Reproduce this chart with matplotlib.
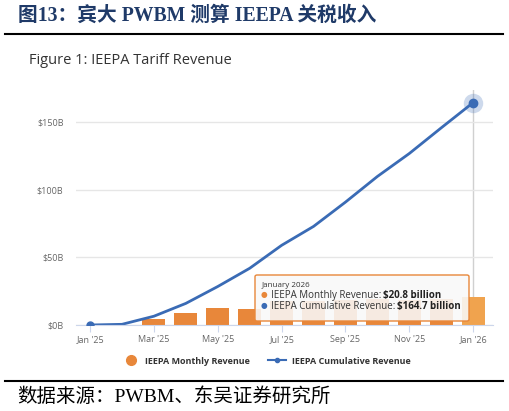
import matplotlib
matplotlib.use('Agg')
import matplotlib.pyplot as plt
from matplotlib.lines import Line2D
from matplotlib.patches import FancyBboxPatch
import numpy as np

# data (billions USD)
months = ["Jan '25", "Feb '25", "Mar '25", "Apr '25", "May '25", "Jun '25", "Jul '25",
          "Aug '25", "Sep '25", "Oct '25", "Nov '25", "Dec '25", "Jan '26"]
monthly = [0, 0, 4.4, 8.6, 12.3, 11.9, 17.5, 18.0, 18.5, 19.0, 18.5, 19.0, 20.8]
cumulative = [0, 0.5, 6.5, 16.0, 28.5, 42.0, 59.0, 73.0, 91.0, 110.0, 127.0, 146.0, 164.7]
yticks = [0, 50, 100, 150]
ytick_labels = ['$0B', '$50B', '$100B', '$150B']

ORANGE = '#E8873A'
ORANGE_HI = '#F0A34E'
BLUE = '#3A6BB5'
NAVY = '#1F3A68'
W, H = 509, 411
SERIF_CJK = ['Liberation Serif', 'Noto Sans CJK SC', 'DejaVu Sans']

plt.rcParams['font.family'] = ['Open Sans', 'DejaVu Sans']

fig = plt.figure(figsize=(W / 100, H / 100), dpi=100)

def fx(px):
    return px / W

def fy(py):
    return 1 - py / H

# main axes
ax = fig.add_axes([fx(76), fy(325), fx(493) - fx(76), fy(90) - fy(325)])
x = np.arange(len(months))

bar_colors = [ORANGE] * (len(months) - 1) + [ORANGE_HI]
ax.bar(x, monthly, width=0.72, color=bar_colors, zorder=2)

ax.plot(x, cumulative, color=BLUE, lw=2, zorder=3, solid_capstyle='round')
ax.plot(x[0], cumulative[0], 'o', color=BLUE, ms=5, zorder=4)
ax.plot(x[-1], cumulative[-1], 'o', color=BLUE, ms=14, alpha=0.25, mec='none', zorder=4)
ax.plot(x[-1], cumulative[-1], 'o', color=BLUE, ms=6, zorder=5)

# crosshair
ax.axvline(x[-1], color='#d0d0d0', lw=1, zorder=1)

ax.set_xlim(-0.44, 12.62)
ax.set_ylim(0, 174)
ax.set_yticks(yticks)
ax.set_yticklabels(ytick_labels)
ax.set_xticks(x[::2])
ax.set_xticklabels(months[::2])
ax.grid(axis='y', color='#e6e6e6', lw=1, zorder=0)
ax.tick_params(axis='y', length=0, labelsize=6.5, labelcolor='#666666', pad=9)
ax.tick_params(axis='x', length=5, color='#ccd6eb', labelsize=6.5, labelcolor='#666666', pad=2)
for s in ['top', 'right', 'left']:
    ax.spines[s].set_visible(False)
ax.spines['bottom'].set_color('#ccd6eb')
ax.spines['bottom'].set_zorder(3)

# tooltip
box = FancyBboxPatch((fx(255), fy(321)), fx(469) - fx(255), fy(275) - fy(321),
                     boxstyle='round,pad=0,rounding_size=0.004', transform=fig.transFigure,
                     facecolor='#f9f9f9', alpha=0.88, edgecolor='none', zorder=10)
fig.patches.append(box)
edge = FancyBboxPatch((fx(255), fy(321)), fx(469) - fx(255), fy(275) - fy(321),
                      boxstyle='round,pad=0,rounding_size=0.004', transform=fig.transFigure,
                      facecolor='none', edgecolor=ORANGE, lw=1, zorder=11)
fig.patches.append(edge)
fig.text(fx(262), fy(285), 'January 2026', fontsize=5.8, color='#333333', va='center', zorder=12)
fig.text(fx(261), fy(295.5), '●', fontsize=5.5, color=ORANGE, va='center', zorder=12)
fig.text(fx(271), fy(295.5), 'IEEPA Monthly Revenue: ', fontsize=7, color='#333333', va='center', zorder=12)
fig.text(fx(383), fy(295.5), '$20.8 billion', fontsize=7, color='#222222', fontweight='bold', va='center', zorder=12)
fig.text(fx(261), fy(306.5), '●', fontsize=5.5, color=BLUE, va='center', zorder=12)
fig.text(fx(271), fy(306.5), 'IEEPA Cumulative Revenue: ', fontsize=7, color='#333333', va='center', zorder=12)
fig.text(fx(397), fy(306.5), '$164.7 billion', fontsize=7, color='#222222', fontweight='bold', va='center', zorder=12)

# legend
handles = [Line2D([], [], ls='none', marker='o', ms=7, color=ORANGE),
           Line2D([], [], color=BLUE, lw=1.5, marker='o', ms=3)]
fig.legend(handles, ['IEEPA Monthly Revenue', 'IEEPA Cumulative Revenue'],
           loc='center', bbox_to_anchor=(fx(266), fy(361)), ncol=2, frameon=False,
           prop={'size': 6.5, 'weight': 'bold'}, labelcolor='#333333',
           handlelength=2.0, handletextpad=0.6, columnspacing=2.0)

# headers and footer
fig.text(fx(18), fy(16), '图13：宾大 PWBM 测算 IEEPA 关税收入', fontsize=14.2, fontweight='bold',
         color=NAVY, va='center', family=SERIF_CJK)
fig.add_artist(Line2D([fx(5), fx(503)], [fy(34), fy(34)], color='black', lw=1.5))
fig.text(fx(29), fy(61), 'Figure 1: IEEPA Tariff Revenue', fontsize=10.5, color='#333333', va='center')
fig.add_artist(Line2D([fx(5), fx(503)], [fy(381), fy(381)], color='black', lw=1.5))
fig.text(fx(17), fy(397), '数据来源：PWBM、东吴证券研究所', fontsize=14, color='black',
         va='center', family=SERIF_CJK)

fig.savefig('out.png', dpi=100)
